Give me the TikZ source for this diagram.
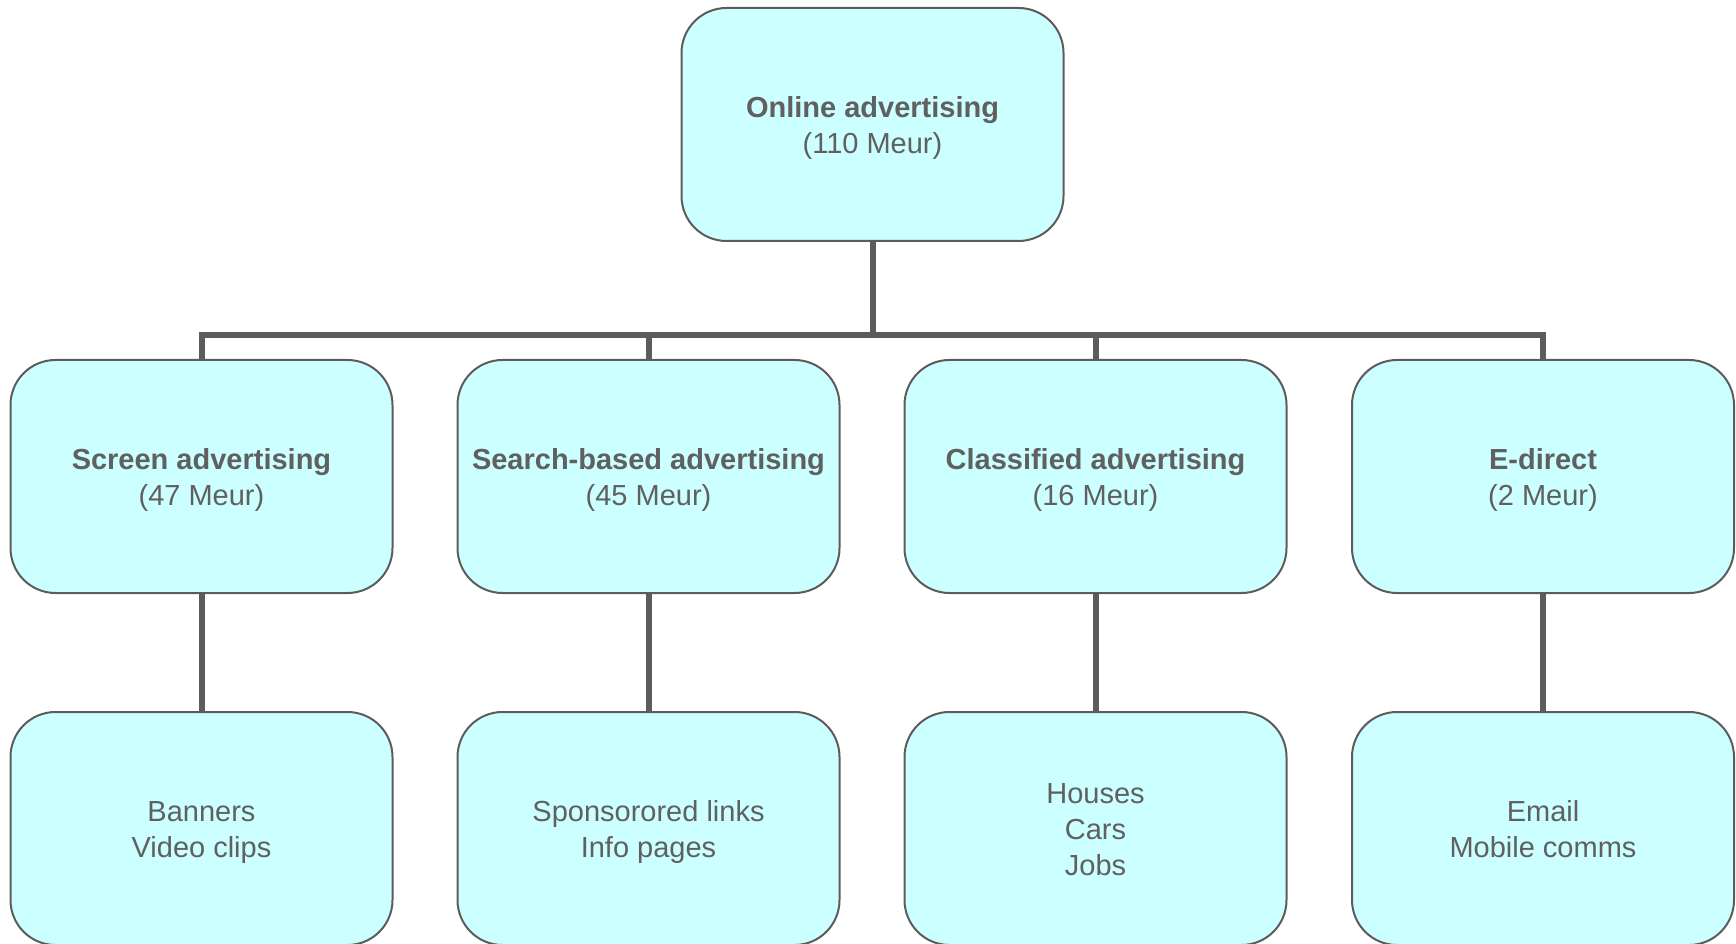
\documentclass[tikz,border=0pt]{standalone}
\usepackage{fontspec}
\setmainfont{Liberation Sans}
\usepackage{tikz}
\usetikzlibrary{positioning}
\definecolor{boxfill}{HTML}{CCFFFF}
\definecolor{boxline}{HTML}{5C5C5C}
\definecolor{boxtext}{HTML}{606060}
\newcommand{\upstrut}{\rule{0pt}{29pt}}
\newcommand{\downstrut}{\rule[-7pt]{0pt}{7pt}}
\tikzset{
  adbox/.style={draw=boxline,line width=2pt,fill=boxfill,rounded corners=45pt,
    minimum width=382pt,minimum height=233pt,align=center,text=boxtext,
    font=\fontsize{29}{36}\selectfont},
  conn/.style={draw=boxline,line width=6pt,line join=miter}
}
\begin{document}
\begin{tikzpicture}[x=1pt,y=1pt]
\clip(0,0) rectangle (1736,943);
% top level
\node[adbox] (online) at (872.5,818.5) {\upstrut\textbf{Online advertising}\\(110 Meur)\downstrut};
% second level
\node[adbox] (screen) at (201.5,466.5) {\upstrut\textbf{Screen advertising}\\(47 Meur)\downstrut};
\node[adbox] (search) at (648.5,466.5) {\upstrut\textbf{Search-based advertising}\\(45 Meur)\downstrut};
\node[adbox] (classified) at (1095.5,466.5) {\upstrut\textbf{Classified advertising}\\(16 Meur)\downstrut};
\node[adbox] (edirect) at (1543,466.5) {\upstrut\textbf{E-direct}\\(2 Meur)\downstrut};
% third level
\node[adbox] (screenitems) at (201.5,114.5) {\upstrut Banners\\Video clips\downstrut};
\node[adbox] (searchitems) at (648.5,114.5) {\upstrut Sponsorored links\\Info pages\downstrut};
\node[adbox] (classifieditems) at (1095.5,114.5) {\upstrut Houses\\Cars\\Jobs\downstrut};
\node[adbox] (edirectitems) at (1543,114.5) {\upstrut Email\\Mobile comms\downstrut};
% connectors
\coordinate (bus) at (872.5,608);
\draw[conn] (online.south) -- (bus) -| (screen.north);
\draw[conn] (bus) -| (edirect.north);
\draw[conn] (bus) -| (search.north);
\draw[conn] (bus) -| (classified.north);
\draw[conn] (screen.south) -- (screenitems.north);
\draw[conn] (search.south) -- (searchitems.north);
\draw[conn] (classified.south) -- (classifieditems.north);
\draw[conn] (edirect.south) -- (edirectitems.north);
\end{tikzpicture}
\end{document}
